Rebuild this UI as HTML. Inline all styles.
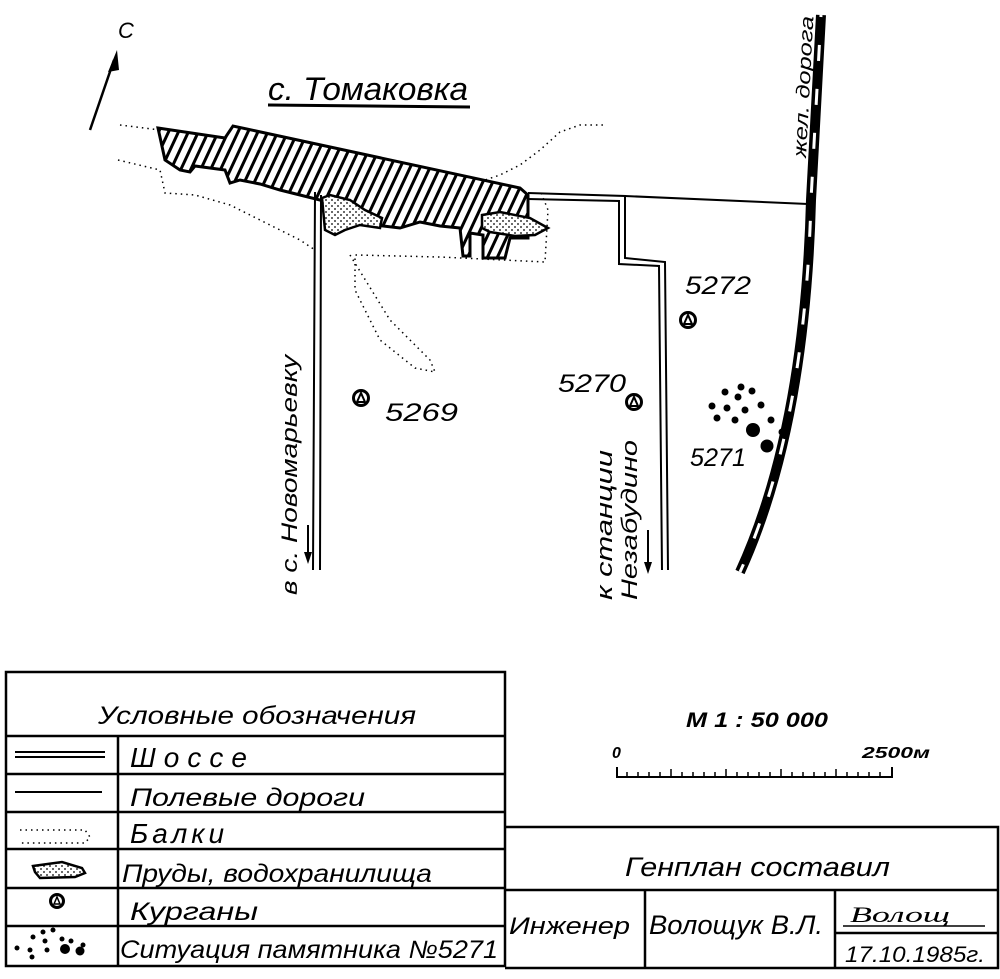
<!DOCTYPE html>
<html><head><meta charset="utf-8"><style>
html,body{margin:0;padding:0;background:#fff;width:1000px;height:979px;overflow:hidden}
svg text{font-family:"Liberation Sans","DejaVu Sans",sans-serif;font-style:italic;fill:#000}
</style></head><body>
<svg width="1000" height="979" viewBox="0 0 1000 979" xmlns="http://www.w3.org/2000/svg">
<defs>
<pattern id="h" width="9" height="9" patternUnits="userSpaceOnUse" patternTransform="rotate(25)">
<rect width="9" height="9" fill="#fff"/><rect width="3" height="9" fill="#000"/></pattern>
<pattern id="d" width="6" height="6" patternUnits="userSpaceOnUse">
<rect width="6" height="6" fill="#fff"/><circle cx="2" cy="2" r="0.9" fill="#000"/><circle cx="5" cy="5" r="0.9" fill="#000"/></pattern>
</defs>
<text x="118" y="38" font-size="22" font-style="normal">С</text>
<line x1="90" y1="130" x2="114" y2="60" stroke="#000" stroke-width="2.5"/>
<polygon points="117,50 108,72 119,70" fill="#000"/>
<text x="268" y="100" font-size="32" textLength="200" lengthAdjust="spacingAndGlyphs">с. Томаковка</text>
<line x1="268" y1="105" x2="470" y2="107" stroke="#000" stroke-width="3"/>
<g fill="none" stroke="#000" stroke-width="1.5" stroke-dasharray="1.5 4">
<path d="M120,125 L160,130 M118,160 L160,170 L165,193 L195,195 L230,205 L300,240 L315,250"/>
<path d="M350,255 L390,320 L430,360 L435,372 L415,368 L380,340 L355,290 L355,255 L440,257 L545,262 L548,210 L540,190"/>
<path d="M470,185 L500,175 L520,165 L540,150 L560,132 L580,125 L605,125"/>
<path d="M20,830 L85,830 L90,837 L85,843 L20,843"/>
</g>
<path d="M158,128 L225,138 L233,126 L520,188 L528,195 L528,238 L510,238 L505,258 L483,258 L483,235 L470,233 L470,256 L463,256 L460,228 L440,226 L420,222 L400,228 L375,225 L350,215 L320,200 L300,195 L280,190 L260,184 L240,180 L230,183 L225,170 L210,168 L195,166 L190,172 L180,170 L165,160 Z" fill="url(#h)" stroke="#000" stroke-width="3"/>
<path d="M322,198 L330,195 L350,200 L365,210 L382,218 L380,228 L360,225 L345,230 L335,235 L325,230 Z" fill="url(#d)" stroke="#000" stroke-width="2.5"/>
<path d="M482,215 L500,212 L530,218 L548,228 L535,235 L515,236 L490,232 L482,228 Z" fill="url(#d)" stroke="#000" stroke-width="2.5"/>
<g fill="none" stroke="#000" stroke-width="2">
<path d="M315,192 L313,570 M321,195 L320,570"/>
<path d="M528,193 L625,196 L625,258 L665,262 L668,570"/>
<path d="M528,199 L619,201 L619,264 L659,266 L662,570"/>
<path d="M625,196 L808,204"/>
</g>
<line x1="308" y1="525" x2="308" y2="555" stroke="#000" stroke-width="2"/><polygon points="304,552 312,552 308,564" fill="#000"/>
<line x1="648" y1="530" x2="648" y2="565" stroke="#000" stroke-width="2"/><polygon points="644,562 652,562 648,574" fill="#000"/>
<path d="M821,15 L811,200 Q805,430 740,572" fill="none" stroke="#000" stroke-width="10"/>
<path d="M821,15 L811,200 Q805,430 740,572" fill="none" stroke="#fff" stroke-width="3" stroke-dasharray="16 28" stroke-dashoffset="-30"/>
<text transform="translate(806,158) rotate(-87)" font-size="19" textLength="142" lengthAdjust="spacingAndGlyphs">жел. дорога</text>
<g fill="none" stroke="#000" stroke-width="3">
<circle cx="361" cy="398" r="7.5"/><circle cx="634" cy="402" r="7.5"/><circle cx="688" cy="320" r="7.5"/>
</g>
<g fill="none" stroke="#000" stroke-width="2">
<path d="M357,402 L361,393 L365,402 Z M630,406 L634,397 L638,406 Z M684,324 L688,315 L692,324 Z"/>
</g>
<text x="385" y="421" font-size="25" textLength="73" lengthAdjust="spacingAndGlyphs">5269</text>
<text x="558" y="392" font-size="25" textLength="68" lengthAdjust="spacingAndGlyphs">5270</text>
<text x="685" y="294" font-size="25" textLength="66" lengthAdjust="spacingAndGlyphs">5272</text>
<text x="690" y="466" font-size="25" textLength="56" lengthAdjust="spacingAndGlyphs">5271</text>
<g fill="#000">
<circle cx="741" cy="387" r="3.5"/><circle cx="752" cy="391" r="3.5"/><circle cx="725" cy="392" r="3.5"/><circle cx="738" cy="397" r="3.5"/>
<circle cx="761" cy="405" r="3.5"/><circle cx="712" cy="406" r="3.5"/><circle cx="727" cy="408" r="3.5"/><circle cx="745" cy="410" r="3.5"/>
<circle cx="717" cy="418" r="3.5"/><circle cx="735" cy="420" r="3.5"/><circle cx="771" cy="420" r="3.5"/><circle cx="782" cy="432" r="3.5"/>
<circle cx="753" cy="430" r="7"/><circle cx="767" cy="446" r="6.5"/>
</g>
<text transform="translate(297,595) rotate(-90)" font-size="22" textLength="240" lengthAdjust="spacingAndGlyphs">в с. Новомарьевку</text>
<text transform="translate(612,600) rotate(-90)" font-size="22" textLength="150" lengthAdjust="spacingAndGlyphs">к станции</text>
<text transform="translate(637,600) rotate(-90)" font-size="22" textLength="160" lengthAdjust="spacingAndGlyphs">Незабудино</text>
<g stroke="#000" stroke-width="2.5" fill="none">
<rect x="6" y="672" width="499" height="294"/>
<path d="M6,736 H505 M6,774 H505 M6,812 H505 M6,849 H505 M6,888 H505 M6,926 H505 M118,736 V966"/>
<path d="M505,827 H998 V968 H505 M505,890 H998 M645,890 V968 M835,890 V968 M835,933 H998"/>
</g>
<g font-size="25">
<text x="98" y="724" textLength="318" lengthAdjust="spacingAndGlyphs">Условные обозначения</text>
<text x="130" y="767" font-size="28" letter-spacing="8">Шоссе</text>
<text x="130" y="806" textLength="235" lengthAdjust="spacingAndGlyphs">Полевые дороги</text>
<text x="130" y="843" font-size="28" letter-spacing="4">Балки</text>
<text x="122" y="882" textLength="310" lengthAdjust="spacingAndGlyphs">Пруды, водохранилища</text>
<text x="130" y="920" textLength="128" lengthAdjust="spacingAndGlyphs">Курганы</text>
<text x="120" y="958" textLength="378" lengthAdjust="spacingAndGlyphs">Ситуация памятника №5271</text>
</g>
<g stroke="#000" stroke-width="2"><path d="M15,752 H105 M15,757 H105 M15,792 H102"/></g>
<path d="M33,866 L62,862 L82,868 L85,873 L75,877 L40,878 L35,872 Z" fill="url(#d)" stroke="#000" stroke-width="2.5"/>
<circle cx="57" cy="901" r="6.5" fill="none" stroke="#000" stroke-width="3"/><path d="M54,904 L57,897 L60,904Z" fill="none" stroke="#000" stroke-width="1.5"/>
<g fill="#000"><circle cx="43" cy="932" r="2.5"/><circle cx="53" cy="930" r="2.5"/><circle cx="62" cy="939" r="2.5"/><circle cx="33" cy="937" r="2.5"/><circle cx="45" cy="941" r="2.5"/><circle cx="71" cy="941" r="2.5"/><circle cx="83" cy="945" r="2.5"/><circle cx="17" cy="948" r="2.5"/><circle cx="30" cy="950" r="2.5"/><circle cx="47" cy="950" r="2.5"/><circle cx="65" cy="949" r="5"/><circle cx="80" cy="951" r="4.5"/><circle cx="32" cy="957" r="2.5"/></g>
<text x="686" y="727" font-size="21" font-weight="bold" textLength="142" lengthAdjust="spacingAndGlyphs">М 1 : 50 000</text>
<text x="612" y="758" font-size="16" font-weight="bold">0</text>
<text x="862" y="758" font-size="16" font-weight="bold" textLength="68" lengthAdjust="spacingAndGlyphs">2500м</text>
<path d="M617,767 V777 H892 V767" fill="none" stroke="#000" stroke-width="2"/>
<g stroke="#000" stroke-width="1.5">
<path d="M627,772V777M638,772V777M649,772V777M660,772V777M671,769V777M682,772V777M693,772V777M704,772V777M715,772V777M726,769V777M737,772V777M748,772V777M759,772V777M770,772V777M781,769V777M792,772V777M803,772V777M814,772V777M825,772V777M836,769V777M847,772V777M858,772V777M869,772V777M880,772V777"/>
</g>
<text x="625" y="876" font-size="27" textLength="265" lengthAdjust="spacingAndGlyphs">Генплан составил</text>
<text x="509" y="934" font-size="24" textLength="121" lengthAdjust="spacingAndGlyphs">Инженер</text>
<text x="649" y="934" font-size="27" textLength="174" lengthAdjust="spacingAndGlyphs">Волощук В.Л.</text>
<text x="850" y="922" font-size="22" style="font-family:'Liberation Serif',serif" textLength="100" lengthAdjust="spacingAndGlyphs">Волощ</text>
<line x1="843" y1="926" x2="985" y2="926" stroke="#000" stroke-width="1.5"/>
<text x="845" y="962" font-size="22" textLength="140" lengthAdjust="spacingAndGlyphs">17.10.1985г.</text>
</svg>
</body></html>
